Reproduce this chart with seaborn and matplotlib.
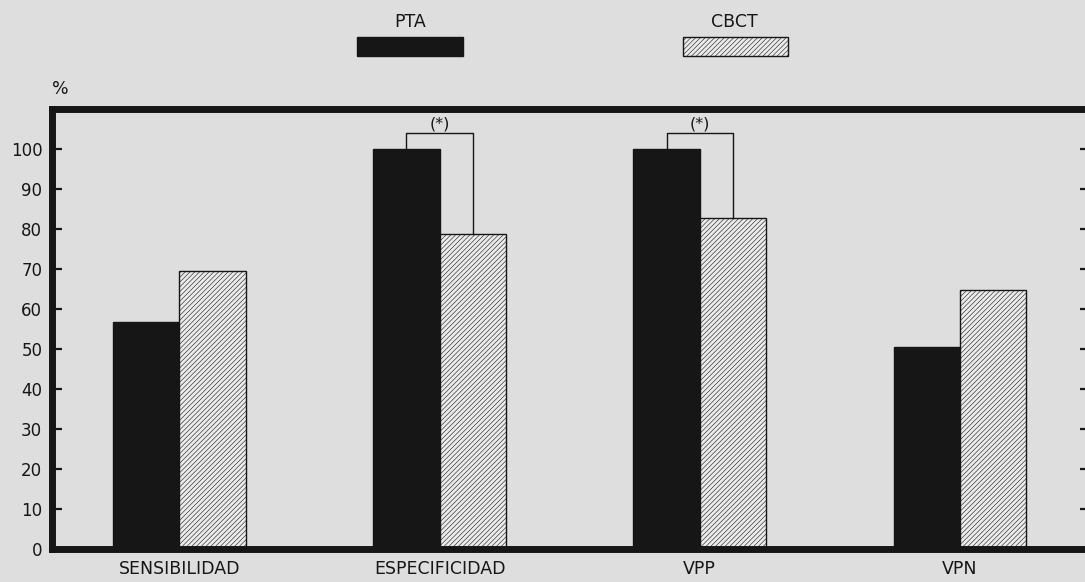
import pandas as pd
import matplotlib
matplotlib.use('Agg')
import matplotlib.pyplot as plt
from matplotlib.patches import Rectangle
import seaborn as sns

# ----------------------
# Data
medidas = ['SENSIBILIDAD', 'ESPECIFICIDAD', 'VPP', 'VPN']
metodos = ['PTA', 'CBCT']
pta = [56.7, 100, 100, 50.5]
cbct = [69.5, 78.8, 82.8, 64.8]
significativo = [False, True, True, False]
y_ticks = list(range(0, 101, 10))

df = pd.DataFrame({
    'medida': medidas * 2,
    'metodo': ['PTA'] * 4 + ['CBCT'] * 4,
    'valor': pta + cbct,
})

# ----------------------
# Style
bg = '#dedede'
ink = '#161616'
rayado = '///////'
plt.rcParams['hatch.linewidth'] = 0.4
plt.rcParams['font.family'] = ['DejaVu Sans']

fig = plt.figure(figsize=(10.85, 5.82), dpi=100, facecolor=bg)
ax = fig.add_axes([52 / 1085, 1 - 549 / 582, 1038 / 1085, 440 / 582])
ax.set_facecolor(bg)

sns.barplot(data=df, x='medida', y='valor', hue='metodo', order=medidas,
            hue_order=metodos, palette=[ink, '#ebebeb'], width=0.51,
            edgecolor=ink, linewidth=1.0, saturation=1, legend=False, ax=ax)

for bar in ax.containers[1]:
    bar.set_hatch(rayado)

ax.set_xlim(-0.49, 3.5)
ax.set_ylim(0, 110)
ax.set_yticks(y_ticks)
ax.set_yticklabels([str(t) for t in y_ticks], fontsize=12, color=ink)
ax.set_xlabel('')
ax.set_ylabel('')
ax.tick_params(axis='y', direction='in', length=7, width=1.6, color=ink,
               pad=7, right=True)
ax.tick_params(axis='x', length=0, pad=8, labelsize=12.5, labelcolor=ink)

for side in ['left', 'right', 'top', 'bottom']:
    ax.spines[side].set_linewidth(5)
    ax.spines[side].set_color(ink)

# significance brackets
for i, sig in enumerate(significativo):
    if not sig:
        continue
    b1 = ax.containers[0][i]
    b2 = ax.containers[1][i]
    x1 = b1.get_x() + b1.get_width() / 2
    x2 = b2.get_x() + b2.get_width() / 2
    top = 104
    ax.plot([x1, x1, x2, x2], [pta[i], top, top, cbct[i]], color=ink, lw=1.0)
    ax.text((x1 + x2) / 2, top + 0.4, '(*)', ha='center', va='bottom',
            fontsize=11.5, color=ink)

ax.text(0.008, 1.025, '%', transform=ax.transAxes, ha='center', va='bottom',
        fontsize=12.5, color=ink)

# legend boxes above the plot
fig.add_artist(Rectangle((357 / 1085, 1 - 56 / 582), 106 / 1085, 19 / 582,
                         transform=fig.transFigure, facecolor=ink,
                         edgecolor=ink, lw=1))
fig.add_artist(Rectangle((683 / 1085, 1 - 56 / 582), 105 / 1085, 19 / 582,
                         transform=fig.transFigure, facecolor='#ebebeb',
                         edgecolor=ink, lw=1, hatch=rayado))
fig.text(410 / 1085, 1 - 22 / 582, 'PTA', ha='center', va='center',
         fontsize=12.5, color=ink)
fig.text(734 / 1085, 1 - 22 / 582, 'CBCT', ha='center', va='center',
         fontsize=12.5, color=ink)

plt.savefig('out.png', dpi=100, facecolor=bg)
plt.close()
